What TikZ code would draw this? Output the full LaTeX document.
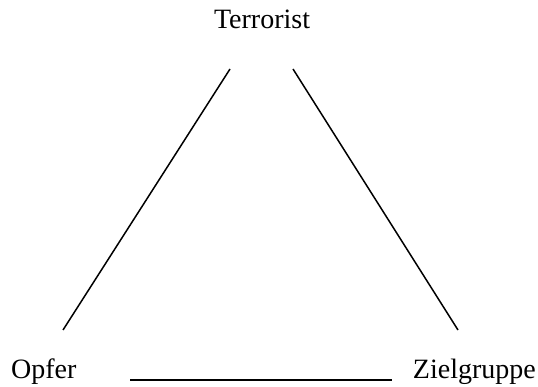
\documentclass[tikz,border=0pt]{standalone}
\usepackage{fontspec}
\setmainfont{Liberation Serif}
\usetikzlibrary{positioning}
\begin{document}
\begin{tikzpicture}[x=1pt, y=-1pt,
        actor/.style={font=\fontsize{28}{32}\selectfont, inner sep=0pt},
        link/.style={line width=1.5pt, draw=black}
    ]
        \useasboundingbox (0,0) rectangle (538,387);
        \node[actor, anchor=base] (terrorist) at (262,29) {Terrorist};
        \node[actor, anchor=base west] (opfer) at (11,378) {Opfer};
        \node[actor, anchor=base east] (ziel) at (536,378) {Zielgruppe};
        
        \coordinate (tl) at (230,69);
        \coordinate (tr) at (293,69);
        \coordinate (ol) at (63,330);
        \coordinate (zr) at (458,330);
        \coordinate (bl) at (130,379.5);
        \coordinate (br) at (392,379.5);
        
        \draw[link] (tl) -- (ol);
        \draw[link] (tr) -- (zr);
        \draw[link, line width=2pt] (bl) -- (br);
    \end{tikzpicture}
\end{document}
